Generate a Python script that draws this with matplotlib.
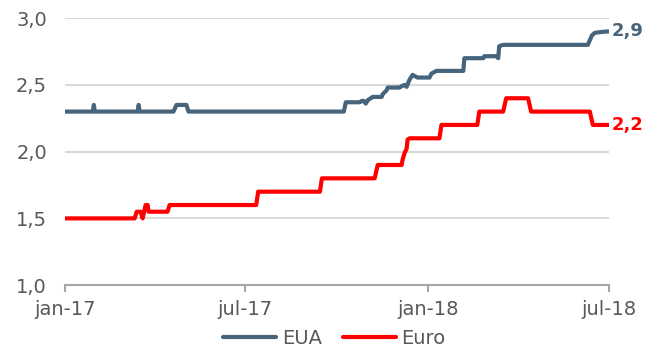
import datetime as dt

import matplotlib
matplotlib.use("Agg")
import matplotlib.dates as mdates
import matplotlib.pyplot as plt

# change points (daily series, flat between points)
eua_dates = ["2017-01-01", "2017-01-29", "2017-01-30", "2017-01-31", "2017-03-15", "2017-03-16",
             "2017-03-17", "2017-04-20", "2017-04-23", "2017-05-03", "2017-05-05", "2017-10-08",
             "2017-10-10", "2017-10-24", "2017-10-26", "2017-10-28", "2017-10-30", "2017-11-01",
             "2017-11-06", "2017-11-15", "2017-11-16", "2017-11-20", "2017-11-21", "2017-12-03",
             "2017-12-05", "2017-12-08", "2017-12-10", "2017-12-13", "2017-12-16", "2017-12-21",
             "2018-01-02", "2018-01-04", "2018-01-09", "2018-02-05", "2018-02-06", "2018-02-25",
             "2018-02-26", "2018-03-10", "2018-03-12", "2018-03-13", "2018-03-17", "2018-06-10",
             "2018-06-14", "2018-06-17", "2018-06-22", "2018-06-29", "2018-07-01"]
eua_values = [2.30, 2.30, 2.35, 2.30, 2.30, 2.35,
              2.30, 2.30, 2.35, 2.35, 2.30, 2.30,
              2.37, 2.37, 2.38, 2.38, 2.36, 2.385,
              2.41, 2.41, 2.43, 2.46, 2.48, 2.48,
              2.49, 2.50, 2.485, 2.54, 2.575, 2.555,
              2.555, 2.585, 2.605, 2.605, 2.70, 2.70,
              2.715, 2.715, 2.70, 2.79, 2.80, 2.80,
              2.87, 2.89, 2.895, 2.90, 2.90]

euro_dates = ["2017-01-01", "2017-03-12", "2017-03-14", "2017-03-18", "2017-03-20", "2017-03-23",
              "2017-03-25", "2017-03-26", "2017-04-14", "2017-04-16", "2017-07-12", "2017-07-14",
              "2017-09-14", "2017-09-16", "2017-11-08", "2017-11-11", "2017-12-05", "2017-12-06",
              "2017-12-08", "2017-12-10", "2017-12-11", "2017-12-13", "2018-01-12", "2018-01-14",
              "2018-02-19", "2018-02-21", "2018-03-17", "2018-03-20", "2018-04-11", "2018-04-14",
              "2018-06-12", "2018-06-15", "2018-07-01"]
euro_values = [1.50, 1.50, 1.55, 1.55, 1.50, 1.60,
               1.60, 1.55, 1.55, 1.60, 1.60, 1.70,
               1.70, 1.80, 1.80, 1.90, 1.90, 1.94,
               1.99, 2.02, 2.09, 2.10, 2.10, 2.20,
               2.20, 2.30, 2.30, 2.40, 2.40, 2.30,
               2.30, 2.20, 2.20]

tick_dates = ["2017-01-01", "2017-07-01", "2018-01-01", "2018-07-01"]
tick_labels = ["jan-17", "jul-17", "jan-18", "jul-18"]
y_ticks = [1.0, 1.5, 2.0, 2.5, 3.0]

EUA_COLOR = "#46647b"
EURO_COLOR = "#ff0000"
GRAY = "#595959"


def to_dates(strings):
    return [dt.datetime.strptime(s, "%Y-%m-%d") for s in strings]


plt.rcParams["font.family"] = ["DejaVu Sans"]
fig = plt.figure(figsize=(6.56, 3.49), dpi=100)
ax = fig.add_axes([0.099, 0.183, 0.829, 0.765])

ax.plot(to_dates(eua_dates), eua_values, color=EUA_COLOR, lw=3,
        solid_joinstyle="round", solid_capstyle="round", label="EUA", zorder=3)
ax.plot(to_dates(euro_dates), euro_values, color=EURO_COLOR, lw=3,
        solid_joinstyle="round", solid_capstyle="round", label="Euro", zorder=3)

# end labels
last_x = to_dates(eua_dates)[-1] + dt.timedelta(days=3)
ax.text(last_x, eua_values[-1], f"{eua_values[-1]:.1f}".replace(".", ","), color=EUA_COLOR,
        fontsize=13, fontweight="bold", va="center", ha="left", clip_on=False)
ax.text(last_x, euro_values[-1], f"{euro_values[-1]:.1f}".replace(".", ","), color=EURO_COLOR,
        fontsize=13, fontweight="bold", va="center", ha="left", clip_on=False)

ax.set_xlim(to_dates(tick_dates)[0], to_dates(tick_dates)[-1])
ax.set_ylim(1.0, 3.0)
ax.set_xticks(to_dates(tick_dates))
ax.set_xticklabels(tick_labels)
ax.set_yticks(y_ticks)
ax.set_yticklabels([f"{v:.1f}".replace(".", ",") for v in y_ticks])

ax.grid(axis="y", color="#d9d9d9", lw=1.5, zorder=0)
ax.set_axisbelow(True)
for side in ("top", "right", "left"):
    ax.spines[side].set_visible(False)
ax.spines["bottom"].set_color("#a6a6a6")
ax.spines["bottom"].set_linewidth(1.5)
ax.tick_params(axis="x", colors="#a6a6a6", labelcolor=GRAY, labelsize=14,
               length=5, width=1.5, pad=6)
ax.tick_params(axis="y", length=0, labelcolor=GRAY, labelsize=14, pad=13)

fig.legend(loc="center", bbox_to_anchor=(0.51, 0.03), ncol=2, frameon=False,
           fontsize=14, handlelength=2.7, handletextpad=0.3, columnspacing=1.1,
           labelcolor=GRAY, borderpad=0)

fig.savefig("out.png", dpi=100)
